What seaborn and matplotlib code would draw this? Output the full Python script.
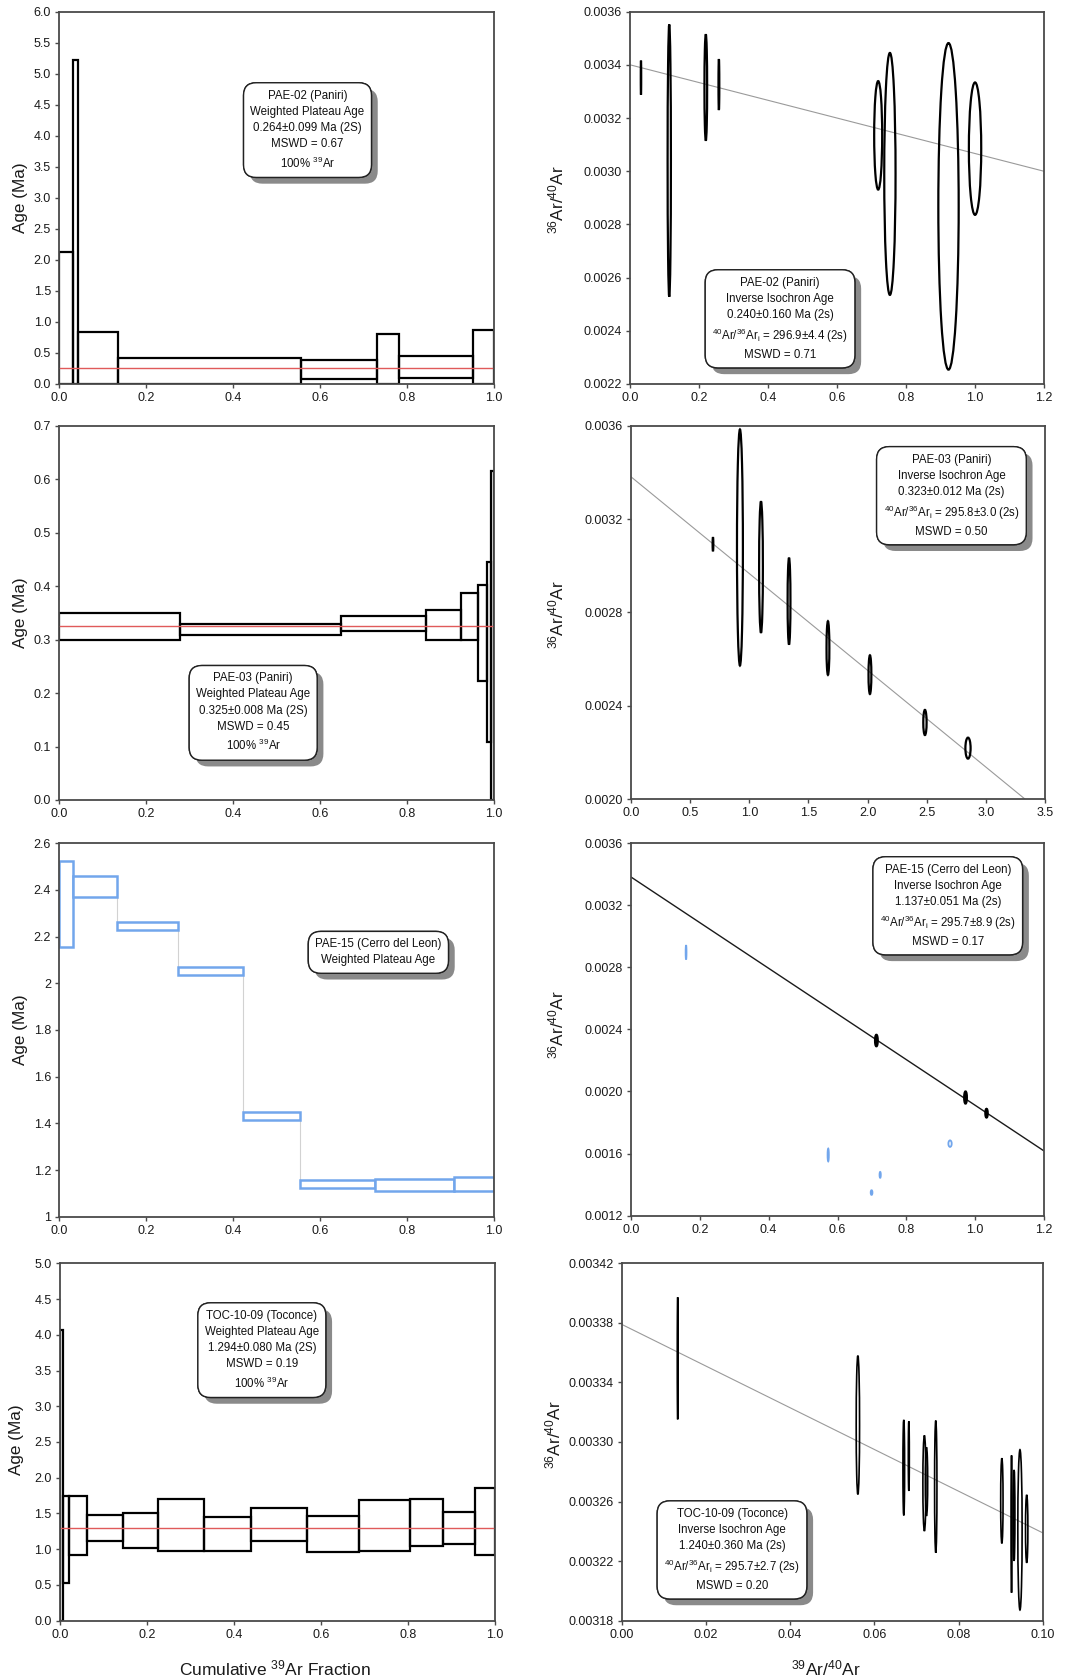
import numpy as np
import matplotlib
matplotlib.use("Agg")
import matplotlib.pyplot as plt
import matplotlib.patheffects as pe
from matplotlib.patches import Rectangle, Ellipse
from matplotlib.ticker import FormatStrFormatter
import seaborn as sns

sns.set_theme(style="white")
plt.rcParams["font.family"] = ["Liberation Sans", "DejaVu Sans"]
plt.rcParams["mathtext.fontset"] = "custom"
plt.rcParams["mathtext.rm"] = "Liberation Sans"
plt.rcParams["mathtext.it"] = "Liberation Sans:italic"
plt.rcParams["mathtext.bf"] = "Liberation Sans:bold"

# ---------------- age spectra (cumulative 39Ar edges, 2s age envelopes, Ma) ----
pae02_cum = [0.0, 0.031, 0.044, 0.136, 0.557, 0.730, 0.782, 0.952, 1.0]
pae02_lo = [0.00, 0.00, 0.00, 0.00, 0.08, 0.00, 0.09, 0.00]
pae02_hi = [2.13, 5.22, 0.83, 0.42, 0.39, 0.80, 0.45, 0.87]
pae02_plateau = 0.264

pae03_cum = [0.0, 0.277, 0.647, 0.843, 0.923, 0.963, 0.985, 0.994, 1.0]
pae03_lo = [0.300, 0.308, 0.317, 0.300, 0.300, 0.222, 0.108, 0.000]
pae03_hi = [0.350, 0.330, 0.344, 0.355, 0.388, 0.402, 0.445, 0.615]
pae03_plateau = 0.325

pae15_cum = [0.0, 0.032, 0.132, 0.272, 0.423, 0.553, 0.727, 0.907, 1.0]
pae15_lo = [2.155, 2.370, 2.230, 2.035, 1.415, 1.123, 1.108, 1.110]
pae15_hi = [2.525, 2.462, 2.263, 2.072, 1.450, 1.157, 1.160, 1.172]

toc_cum = [0.0, 0.0077, 0.021, 0.063, 0.145, 0.226, 0.331, 0.440, 0.568,
           0.688, 0.804, 0.881, 0.953, 1.0]
toc_lo = [0.00, 0.53, 0.92, 1.12, 1.02, 0.97, 0.975, 1.11, 0.956, 0.979,
          1.045, 1.068, 0.914]
toc_hi = [4.07, 1.74, 1.75, 1.48, 1.51, 1.70, 1.446, 1.58, 1.47, 1.69,
          1.70, 1.525, 1.85]
toc_plateau = 1.294

# ---------------- inverse isochrons (39Ar/40Ar, 36Ar/40Ar, half-axes) ----------
iso02_x = [0.031, 0.113, 0.219, 0.257, 0.719, 0.753, 0.923, 1.000]
iso02_y = [0.003352, 0.003040, 0.003315, 0.003326, 0.003135, 0.002990, 0.002868, 0.003085]
iso02_ex = [0.0006, 0.0048, 0.0039, 0.0012, 0.0116, 0.0164, 0.0295, 0.0179]
iso02_ey = [0.000064, 0.000512, 0.000200, 0.000096, 0.000204, 0.000455, 0.000614, 0.000249]
iso02_line_x = [0.0, 1.2]
iso02_line_y = [0.003400, 0.003000]

iso03_x = [0.693, 0.921, 1.099, 1.336, 1.665, 2.020, 2.485, 2.849]
iso03_y = [0.003092, 0.003078, 0.002994, 0.002848, 0.002647, 0.002533, 0.002328, 0.002218]
iso03_ex = [0.003, 0.025, 0.016, 0.012, 0.012, 0.012, 0.014, 0.022]
iso03_ey = [0.000030, 0.000506, 0.000282, 0.000186, 0.000115, 0.000083, 0.000054, 0.000045]
iso03_line_x = [0.0, 3.5]
iso03_line_y = [0.003381, 0.0019295]

iso15_x = [0.713, 0.972, 1.033]
iso15_y = [0.002328, 0.001961, 0.001860]
iso15_ex = [0.0035, 0.0035, 0.003]
iso15_ey = [0.000036, 0.000038, 0.000027]
iso15_excl_x = [0.160, 0.573, 0.699, 0.724, 0.927]
iso15_excl_y = [0.002896, 0.001591, 0.001349, 0.001463, 0.001664]
iso15_excl_ex = [0.0012, 0.0018, 0.0025, 0.0018, 0.0048]
iso15_excl_ey = [0.000046, 0.000041, 0.000015, 0.000019, 0.000021]
iso15_line_x = [0.0, 1.2]
iso15_line_y = [0.003381, 0.001617]

toc_iso_x = [0.0133, 0.0561, 0.0670, 0.0682, 0.0719, 0.0724, 0.0746, 0.0903,
             0.0926, 0.0932, 0.0946, 0.0962]
toc_iso_y = [0.0033562, 0.0033114, 0.0032828, 0.0032905, 0.0032723, 0.0032734,
             0.0032700, 0.0032605, 0.0032449, 0.0032507, 0.0032410, 0.0032417]
toc_iso_ex = [0.0001, 0.0004, 0.0002, 0.00012, 0.00036, 0.00028, 0.00028,
              0.00028, 0.00012, 0.0002, 0.00051, 0.00028]
toc_iso_ey = [0.0000410, 0.0000466, 0.0000321, 0.0000234, 0.0000321, 0.0000230,
              0.0000444, 0.0000286, 0.0000461, 0.0000306, 0.0000538, 0.0000228]
toc_iso_line_x = [0.0, 0.10]
toc_iso_line_y = [0.003379, 0.003239]

# ---------------- text -----------------------------------------------------------
ar_i = r"$^{40}$Ar/$^{36}$Ar$_{\mathrm{i}}$"
box_pae02_plateau = ("PAE-02 (Paniri)\nWeighted Plateau Age\n0.264±0.099 Ma (2S)\n"
                     "MSWD = 0.67\n100% $^{39}$Ar")
box_pae02_iso = ("PAE-02 (Paniri)\nInverse Isochron Age\n0.240±0.160 Ma (2s)\n"
                 + ar_i + " = 296.9±4.4 (2s)\nMSWD = 0.71")
box_pae03_plateau = ("PAE-03 (Paniri)\nWeighted Plateau Age\n0.325±0.008 Ma (2S)\n"
                     "MSWD = 0.45\n100% $^{39}$Ar")
box_pae03_iso = ("PAE-03 (Paniri)\nInverse Isochron Age\n0.323±0.012 Ma (2s)\n"
                 + ar_i + " = 295.8±3.0 (2s)\nMSWD = 0.50")
box_pae15_plateau = "PAE-15 (Cerro del Leon)\nWeighted Plateau Age"
box_pae15_iso = ("PAE-15 (Cerro del Leon)\nInverse Isochron Age\n1.137±0.051 Ma (2s)\n"
                 + ar_i + " = 295.7±8.9 (2s)\nMSWD = 0.17")
box_toc_plateau = ("TOC-10-09 (Toconce)\nWeighted Plateau Age\n1.294±0.080 Ma (2S)\n"
                   "MSWD = 0.19\n100% $^{39}$Ar")
box_toc_iso = ("TOC-10-09 (Toconce)\nInverse Isochron Age\n1.240±0.360 Ma (2s)\n"
               + ar_i + " = 295.7±2.7 (2s)\nMSWD = 0.20")

# ---------------- styling --------------------------------------------------------
SPINE = "#4a4a4a"
RED = "#e05a5a"
BLUE = "#72a6ec"
GREY_LINE = "#9a9a9a"

W, H = 1072, 1680
fig = plt.figure(figsize=(W / 100, H / 100), dpi=100)


def add_axes_px(left, top, right, bottom):
    return fig.add_axes([left / W, 1 - bottom / H, (right - left) / W, (bottom - top) / H])


def style_axes(ax, xlim, ylim, xticks, yticks, xfmt, yfmt):
    ax.set_xlim(*xlim)
    ax.set_ylim(*ylim)
    ax.set_xticks(xticks)
    ax.set_yticks(yticks)
    ax.xaxis.set_major_formatter(FormatStrFormatter(xfmt))
    ax.yaxis.set_major_formatter(FormatStrFormatter(yfmt))
    for s in ax.spines.values():
        s.set_color(SPINE)
        s.set_linewidth(1.3)
        s.set_zorder(5)
    ax.tick_params(direction="out", length=3, width=1, color=SPINE,
                   labelsize=9, labelcolor="#1a1a1a", pad=3,
                   bottom=True, left=True, top=False, right=False)
    ax.set_xlabel("")
    ax.set_ylabel("")
    ax.set_facecolor("white")


def spectrum(ax, edges, lo, hi, color, lw, fill=False):
    for x0, x1, a, b in zip(edges[:-1], edges[1:], lo, hi):
        ax.add_patch(Rectangle((x0, a), x1 - x0, b - a, fill=fill,
                               facecolor="white", edgecolor=color, lw=lw, zorder=3))


def ellipses(ax, xs, ys, exs, eys, color, lw):
    for x, y, ex, ey in zip(xs, ys, exs, eys):
        ax.add_patch(Ellipse((x, y), 2 * ex, 2 * ey, facecolor="none",
                             edgecolor=color, lw=lw, zorder=3))


def info_box(ax, x, y, text):
    t = ax.text(x, y, text, transform=ax.transAxes, ha="center", va="center",
                fontsize=8.3, color="#111111", linespacing=1.45, zorder=10,
                bbox=dict(boxstyle="round,pad=0.6,rounding_size=1.1",
                          facecolor="white", edgecolor="#222222", lw=1.0))
    t.get_bbox_patch().set_path_effects(
        [pe.withSimplePatchShadow(offset=(4.5, -4.5), shadow_rgbFace="#8a8a8a", alpha=1.0),
         pe.Normal()])
    return t


def hline(ax, value):
    sns.lineplot(x=[0.0, 1.0], y=[value, value], ax=ax, color=RED, linewidth=1.0,
                 zorder=4, estimator=None)


def iso_line(ax, xs, ys, color, lw):
    sns.lineplot(x=xs, y=ys, ax=ax, color=color, linewidth=lw, zorder=2, estimator=None)


# ---------------- row 1: PAE-02 ------------------------------------------------
ax1 = add_axes_px(59.3, 11.7, 494, 384)
spectrum(ax1, pae02_cum, pae02_lo, pae02_hi, "black", 1.6)
hline(ax1, pae02_plateau)
style_axes(ax1, (0, 1), (0, 6), np.linspace(0, 1, 6), np.linspace(0, 6, 13), "%.1f", "%.1f")
info_box(ax1, 0.571, 0.682, box_pae02_plateau)

ax2 = add_axes_px(630.3, 11.7, 1044, 384)
iso_line(ax2, iso02_line_x, iso02_line_y, GREY_LINE, 0.8)
ellipses(ax2, iso02_x, iso02_y, iso02_ex, iso02_ey, "black", 1.6)
style_axes(ax2, (0, 1.2), (0.0022, 0.0036), np.linspace(0, 1.2, 7),
           np.linspace(0.0022, 0.0036, 8), "%.1f", "%.4f")
info_box(ax2, 0.362, 0.175, box_pae02_iso)

# ---------------- row 2: PAE-03 ------------------------------------------------
ax3 = add_axes_px(59.3, 426, 494, 800)
spectrum(ax3, pae03_cum, pae03_lo, pae03_hi, "black", 1.6)
hline(ax3, pae03_plateau)
style_axes(ax3, (0, 1), (0, 0.7), np.linspace(0, 1, 6), np.linspace(0, 0.7, 8), "%.1f", "%.1f")
info_box(ax3, 0.446, 0.233, box_pae03_plateau)

ax4 = add_axes_px(631, 425.7, 1045, 799)
iso_line(ax4, iso03_line_x, iso03_line_y, GREY_LINE, 0.8)
ellipses(ax4, iso03_x, iso03_y, iso03_ex, iso03_ey, "black", 1.6)
style_axes(ax4, (0, 3.5), (0.0020, 0.0036), np.linspace(0, 3.5, 8),
           np.linspace(0.0020, 0.0036, 5), "%.1f", "%.4f")
info_box(ax4, 0.774, 0.8125, box_pae03_iso)

# ---------------- row 3: PAE-15 ------------------------------------------------
ax5 = add_axes_px(59.3, 843.3, 494, 1216.7)
mids15 = [(a + b) / 2 for a, b in zip(pae15_lo, pae15_hi)]
ax5.step(pae15_cum, mids15 + [mids15[-1]], where="post", color="#d2d2d2", lw=0.8, zorder=2)
spectrum(ax5, pae15_cum, pae15_lo, pae15_hi, BLUE, 1.8, fill=True)
style_axes(ax5, (0, 1), (1, 2.6), np.linspace(0, 1, 6), np.linspace(1, 2.6, 9), "%.1f", "%g")
info_box(ax5, 0.734, 0.708, box_pae15_plateau)

ax6 = add_axes_px(631, 843, 1044, 1215.7)
iso_line(ax6, iso15_line_x, iso15_line_y, "#1a1a1a", 1.0)
ellipses(ax6, iso15_x, iso15_y, iso15_ex, iso15_ey, "black", 1.8)
ellipses(ax6, iso15_excl_x, iso15_excl_y, iso15_excl_ex, iso15_excl_ey, BLUE, 1.3)
style_axes(ax6, (0, 1.2), (0.0012, 0.0036), np.linspace(0, 1.2, 7),
           np.linspace(0.0012, 0.0036, 7), "%.1f", "%.4f")
info_box(ax6, 0.767, 0.8315, box_pae15_iso)

# ---------------- row 4: TOC-10-09 ---------------------------------------------
ax7 = add_axes_px(60, 1263.3, 495, 1620.7)
spectrum(ax7, toc_cum, toc_lo, toc_hi, "black", 1.6)
hline(ax7, toc_plateau)
style_axes(ax7, (0, 1), (0, 5), np.linspace(0, 1, 6), np.linspace(0, 5, 11), "%.1f", "%.1f")
info_box(ax7, 0.464, 0.757, box_toc_plateau)

ax8 = add_axes_px(621.7, 1263.3, 1042.7, 1620.7)
iso_line(ax8, toc_iso_line_x, toc_iso_line_y, GREY_LINE, 0.8)
ellipses(ax8, toc_iso_x, toc_iso_y, toc_iso_ex, toc_iso_ey, "black", 1.2)
style_axes(ax8, (0, 0.10), (0.00318, 0.00342), np.linspace(0, 0.10, 6),
           np.linspace(0.00318, 0.00342, 7), "%.2f", "%.5f")
info_box(ax8, 0.262, 0.198, box_toc_iso)

# ---------------- axis titles ----------------------------------------------------
age_label = "Age (Ma)"
ratio_label = r"$^{36}$Ar/$^{40}$Ar"
for yc, xl in [(198, 21), (613, 21), (1030, 21), (1440, 17)]:
    fig.text(xl / W, 1 - yc / H, age_label, rotation=90, ha="center", va="center",
             fontsize=12.3, color="#1a1a1a")
for yc, xl in [(200, 556), (615, 556), (1025, 556), (1435, 553)]:
    fig.text(xl / W, 1 - yc / H, ratio_label, rotation=90, ha="center", va="center",
             fontsize=12.3, color="#1a1a1a")
fig.text(275 / W, 1 - 1668 / H, r"Cumulative $^{39}$Ar Fraction", ha="center", va="center",
         fontsize=12.5, color="#1a1a1a")
fig.text(826 / W, 1 - 1668 / H, r"$^{39}$Ar/$^{40}$Ar", ha="center", va="center",
         fontsize=12.5, color="#1a1a1a")

fig.savefig("out.png", dpi=100, facecolor="white")
